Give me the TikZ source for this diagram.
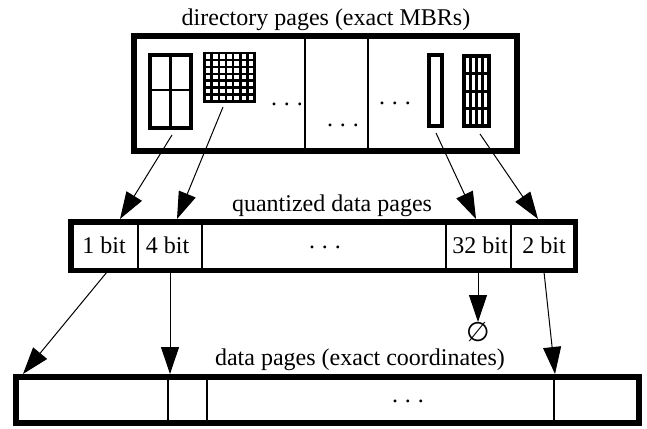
\documentclass[tikz,border=0pt]{standalone}
\usepackage{fontspec}
\setmainfont{Liberation Serif}
\newfontfamily\symbolfamily{DejaVu Sans}
\usetikzlibrary{arrows.meta}
\begin{document}
\begin{tikzpicture}[x=1pt,y=-1pt,
  pagebox/.style={draw, line width=#1, inner sep=0pt, outer sep=0pt, rectangle},
  lbl/.style={font=\fontsize{24}{28}\selectfont, inner sep=0pt, anchor=base},
  conn/.style={line width=1pt, -{Triangle[length=27pt,width=18pt]}},
  divider/.style={line width=1.3pt},
  mbr/.style={line width=4pt},
  gridline/.style={line width=2.7pt},
]
\useasboundingbox (0,0) rectangle (647,428);

% ---------- directory pages ----------
\node[pagebox=6pt, minimum width=383pt, minimum height=115pt] (dir) at (325.5,93.5) {};
\node[lbl] (dirlbl) at (326,26) {directory pages (exact MBRs)};
\draw[divider] (305,36) -- (305,151);
\draw[divider] (368,36) -- (368,151);

% MBR 1: 2x2 grid
\draw[mbr] (150.3,55.3) rectangle (191.3,128);
\draw[gridline] (170.8,55.3) -- (170.8,128);
\draw[gridline] (150.3,90) -- (191.3,90);

% MBR 2: 7x7 grid
\foreach \i in {0,...,7} {
  \draw[gridline] ({204.65+\i*7.1},51.7) -- ({204.65+\i*7.1},101.7);
  \draw[gridline] (203.3,{53.05+\i*6.94}) -- (256,{53.05+\i*6.94});
}

% MBR 3: thin rectangle
\draw[mbr] (428.7,55.3) rectangle (442,126.3);

% MBR 4: 4x4 grid
\draw[mbr] (464.3,56) rectangle (488.7,126.3);
\foreach \i in {1,2,3} {
  \draw[gridline] ({464.3+\i*6.1},56) -- ({464.3+\i*6.1},126.3);
  \draw[gridline] (464.3,{56+\i*17.6}) -- (488.7,{56+\i*17.6});
}

\node[lbl] (dots1) at (287,105.3) {.\kern7pt.\kern7pt.};
\node[lbl] (dots2) at (343,126.3) {.\kern7pt.\kern7pt.};
\node[lbl] (dots3) at (395,104.3) {.\kern7pt.\kern7pt.};

% ---------- quantized data pages ----------
\node[pagebox=5.5pt, minimum width=504.5pt, minimum height=48.5pt] (qdp) at (323,246) {};
\node[lbl] (qlbl) at (332,211) {quantized data pages};
\foreach \x in {138,202,446,511} \draw[divider] (\x,222) -- (\x,270);
\node[lbl] (q1) at (104,253) {1 bit};
\node[lbl] (q2) at (167.5,253) {4 bit};
\node[lbl] (q3) at (325,248.3) {.\kern7pt.\kern7pt.};
\node[lbl] (q4) at (480,253) {32 bit};
\node[lbl] (q5) at (544,253) {2 bit};

% ---------- data pages ----------
\node[pagebox=6pt, minimum width=623pt, minimum height=46pt] (dp) at (327.5,400) {};
\node[lbl] (dlbl) at (360,365) {data pages (exact coordinates)};
\foreach \x in {168,207,554} \draw[divider] (\x,377) -- (\x,423);
\node[lbl] (dots4) at (408,402.3) {.\kern7pt.\kern7pt.};

\node[font=\symbolfamily\fontsize{27}{30}\selectfont, inner sep=0pt] (empty) at (478,332) {∅};

% ---------- connectors ----------
\coordinate (a1s) at (172,135); \coordinate (a1e) at (120,219);
\coordinate (a2s) at (223,107); \coordinate (a2e) at (177,219);
\coordinate (a3s) at (436,133); \coordinate (a3e) at (476,219);
\coordinate (a4s) at (480,134); \coordinate (a4e) at (538,219);
\draw[conn] (a1s) -- (a1e);
\draw[conn] (a2s) -- (a2e);
\draw[conn] (a3s) -- (a3e);
\draw[conn] (a4s) -- (a4e);

\coordinate (b1s) at (107,272); \coordinate (b1e) at (23,374);
\coordinate (b2s) at (170,272); \coordinate (b2e) at (170,374);
\coordinate (b3s) at (478,272); \coordinate (b3e) at (478,322);
\coordinate (b4s) at (544,272); \coordinate (b4e) at (555,374);
\draw[conn] (b1s) -- (b1e);
\draw[conn] (b2s) -- (b2e);
\draw[conn] (b3s) -- (b3e);
\draw[conn] (b4s) -- (b4e);
\end{tikzpicture}
\end{document}
